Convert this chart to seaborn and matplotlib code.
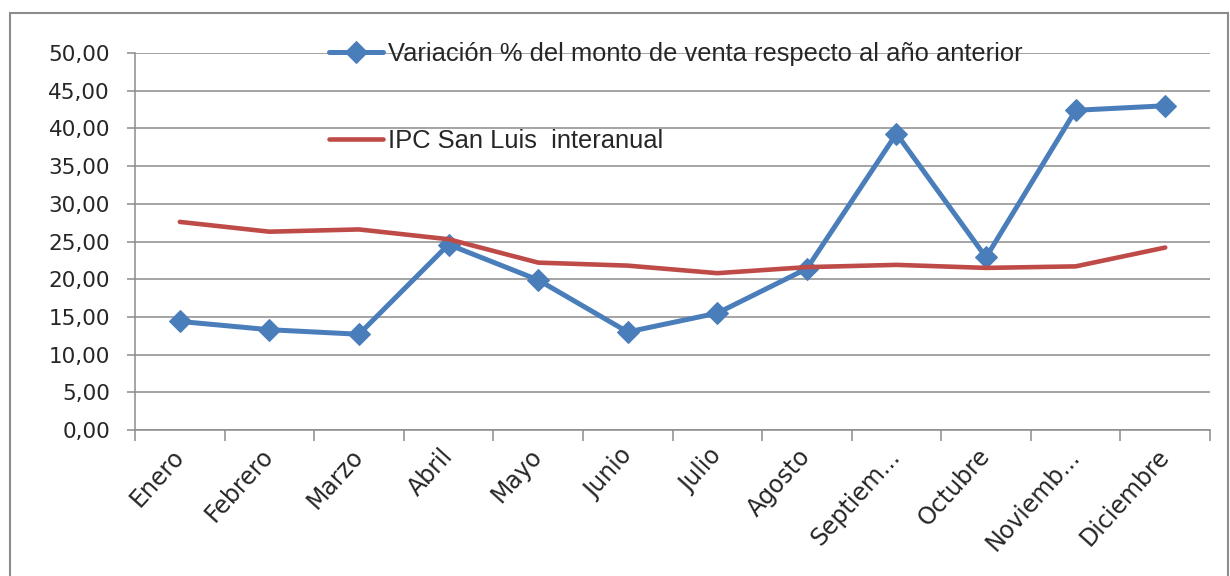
import matplotlib
matplotlib.use("Agg")
import matplotlib.pyplot as plt
import seaborn as sns
import pandas as pd
from matplotlib.patches import Rectangle
from matplotlib.ticker import FixedLocator, FuncFormatter
from matplotlib import font_manager

months = ["Enero", "Febrero", "Marzo", "Abril", "Mayo", "Junio", "Julio",
          "Agosto", "Septiem...", "Octubre", "Noviemb...", "Diciembre"]
variacion = [14.4, 13.3, 12.7, 24.6, 19.9, 13.0, 15.5, 21.4, 39.3, 22.9, 42.4, 43.0]
ipc = [27.6, 26.3, 26.6, 25.3, 22.2, 21.8, 20.8, 21.6, 21.9, 21.5, 21.7, 24.2]
label_var = "Variación % del monto de venta respecto al año anterior"
label_ipc = "IPC San Luis  interanual"
yticks = [0, 5, 10, 15, 20, 25, 30, 35, 40, 45, 50]

sns.set_style("white")
plt.rcParams['font.family'] = ['DejaVu Sans']

# narrow font for legend if available
leg_family, leg_size = "Liberation Sans", 18.4
try:
    font_manager.findfont(font_manager.FontProperties(family="Liberation Sans Narrow"),
                          fallback_to_default=False)
    leg_family, leg_size = "Liberation Sans Narrow", 22.1
except Exception:
    pass

df = pd.DataFrame({"mes": list(range(len(months))), "var": variacion, "ipc": ipc})

fig = plt.figure(figsize=(12.3, 5.76), dpi=100)
ax = fig.add_axes([135/1230, 1-430/576, (1210-135)/1230, (430-53)/576])

blue = "#4A7EBB"
red = "#BE4B48"
sns.lineplot(data=df, x="mes", y="var", ax=ax, color=blue, lw=3.6,
             marker="D", markersize=11.5, markeredgecolor=blue, label=label_var)
sns.lineplot(data=df, x="mes", y="ipc", ax=ax, color=red, lw=3.3, label=label_ipc)

ax.set_xlim(-0.5, len(months) - 0.5)
ax.set_ylim(0, 50)
ax.set_xlabel("")
ax.set_ylabel("")
ax.yaxis.set_major_locator(FixedLocator(yticks))
ax.yaxis.set_major_formatter(FuncFormatter(lambda v, p: f"{v:.2f}".replace(".", ",")))
ax.grid(axis="y", color="#8C8C8C", lw=1.1)
ax.set_axisbelow(True)
for s in ["top", "right"]:
    ax.spines[s].set_visible(False)
for s in ["left", "bottom"]:
    ax.spines[s].set_color("#8C8C8C")
    ax.spines[s].set_linewidth(1.1)

ax.set_xticks([i for i in range(len(months))])
ax.set_xticklabels(months, rotation=48, ha="right", va="center",
                   rotation_mode="anchor", fontsize=17)
ax.tick_params(axis="x", which="major", length=0, pad=16)
ax.set_xticks([i - 0.5 for i in range(len(months) + 1)], minor=True)
ax.tick_params(axis="x", which="minor", length=8, color="#8C8C8C", width=1.1, direction="out")
ax.tick_params(axis="y", length=6, color="#8C8C8C", width=1.1, direction="out",
               labelsize=15.5, pad=12)
ax.tick_params(left=True, bottom=True)
ax.xaxis.set_tick_params(which="minor", bottom=True)

leg = ax.legend(loc="upper left", bbox_to_anchor=(329/1230, 1-42/576),
                bbox_transform=fig.transFigure, frameon=False,
                prop={"family": leg_family, "size": leg_size},
                labelspacing=2.45, handlelength=2.1, handletextpad=0.22,
                borderpad=0, borderaxespad=0)

fig.patches.append(Rectangle((10/1230, -0.05), (1228-10)/1230, 1-13/576+0.05,
                             transform=fig.transFigure, fill=False,
                             edgecolor="#8C8C8C", lw=1.5, zorder=0))

fig.savefig("out.png", dpi=100)
